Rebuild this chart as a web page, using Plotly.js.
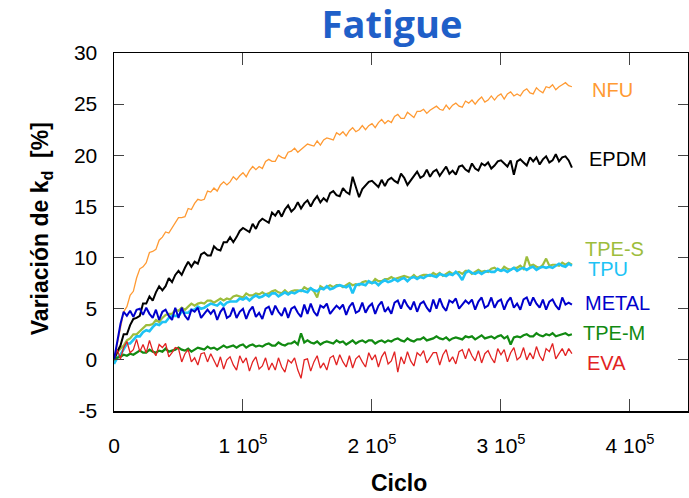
<!DOCTYPE html>
<html>
<head>
<meta charset="utf-8">
<script src="https://cdn.plot.ly/plotly-3.0.1.min.js"></script>
<style>html,body{margin:0;padding:0;background:#fff;}#chart{width:689px;height:498px;}</style>
</head>
<body>
<div id="chart"></div>
<script>
// Cycle counts (x)
const cycles = [
  0,2500,5000,7500,10000,12500,15000,17500,20000,22500,
  25000,27500,30000,32500,35000,37500,40000,42500,45000,47500,
  50000,52500,55000,57500,60000,62500,65000,67500,70000,72500,
  75000,77500,80000,82500,85000,87500,90000,92500,95000,97500,
  100000,102500,105000,107500,110000,112500,115000,117500,120000,122500,
  125000,127500,130000,132500,135000,137500,140000,142500,145000,147500,
  150000,152500,155000,157500,160000,162500,165000,167500,170000,172500,
  175000,177500,180000,182500,185000,187500,190000,192500,195000,197500,
  200000,202500,205000,207500,210000,212500,215000,217500,220000,222500,
  225000,227500,230000,232500,235000,237500,240000,242500,245000,247500,
  250000,252500,255000,257500,260000,262500,265000,267500,270000,272500,
  275000,277500,280000,282500,285000,287500,290000,292500,295000,297500,
  300000,302500,305000,307500,310000,312500,315000,317500,320000,322500,
  325000,327500,330000,332500,335000,337500,340000,342500,345000,347500,
  350000,352500,355000];

const nfu = [
  0,1.4,3.1,4.7,5.2,6.3,6.7,8.0,8.9,9.1,
  9.5,10.5,10.6,10.8,11.7,12.0,12.5,12.4,12.9,13.5,
  13.9,13.9,14.0,14.8,14.7,15.3,15.7,15.6,15.7,16.5,
  16.4,16.8,16.5,17.1,17.4,17.1,17.4,17.9,17.6,18.0,
  18.3,17.9,18.5,18.9,18.6,18.9,18.7,19.4,19.6,19.4,
  19.4,20.0,19.8,19.7,20.3,20.4,20.7,20.3,20.6,20.9,
  21.1,21.0,20.9,21.4,21.0,21.5,21.7,21.6,21.5,22.2,
  22.0,22.3,21.9,22.4,22.7,22.3,22.5,22.9,22.5,22.9,
  23.1,22.7,23.2,23.5,23.1,23.4,23.2,23.8,24.0,23.6,
  23.6,24.2,23.9,23.7,24.3,24.3,24.5,24.1,24.4,24.6,
  24.8,24.5,24.4,24.9,24.5,24.9,25.1,24.8,24.7,25.3,
  25.1,25.4,25.0,25.4,25.7,25.2,25.4,25.8,25.4,25.8,
  26.0,25.5,26.0,26.2,25.8,26.0,25.8,26.3,26.5,26.1,
  26.0,26.6,26.3,26.1,26.7,26.6,26.9,26.4,26.7,26.9,
  27.1,26.8,26.7];

const epdm = [
  0,0.8,1.4,2.5,2.5,3.4,4.0,4.1,4.3,5.5,
  5.5,6.2,5.8,6.6,7.2,6.8,7.2,8.0,7.6,8.3,
  8.7,8.3,9.0,9.6,9.1,9.6,9.4,10.3,10.5,10.2,
  10.2,11.1,10.8,10.7,11.5,11.5,12.0,11.5,12.0,12.6,
  12.9,12.7,12.5,13.3,12.8,13.5,13.8,13.6,13.4,14.4,
  14.1,14.6,14.0,14.7,15.1,14.5,14.8,15.4,14.8,15.3,
  15.6,15.0,15.6,16.0,15.4,15.8,15.5,16.3,16.5,16.1,
  16.0,16.8,16.4,16.2,17.9,16.9,15.9,16.7,17.0,17.4,
  17.5,17.2,16.9,17.6,17.0,17.6,17.8,17.5,17.3,18.2,
  17.8,17.1,17.5,18.0,18.4,17.8,18.0,18.6,17.9,18.4,
  18.6,18.0,18.5,18.9,18.2,18.5,18.1,18.9,19.0,18.6,
  18.4,19.2,18.7,18.5,19.2,19.0,19.3,18.7,19.0,19.4,
  19.5,19.2,18.9,19.5,18.1,19.4,19.6,19.3,19.0,19.8,
  19.4,19.8,19.1,19.6,19.9,19.3,19.5,20.1,19.4,19.8,
  19.9,19.5,18.8];

const tpeS = [
  0,0.7,1.1,1.4,1.9,2.1,2.5,2.5,2.8,3.1,
  3.4,3.4,3.5,3.9,3.7,4.1,4.4,4.5,4.5,4.9,
  4.8,5.1,4.9,5.2,5.5,5.3,5.5,5.6,5.5,5.8,
  5.8,5.6,5.8,6.0,5.8,6.0,5.9,6.2,6.3,6.2,
  6.1,6.5,6.3,6.3,6.5,6.4,6.6,6.4,6.5,6.7,
  6.8,6.6,6.5,6.8,6.5,6.7,6.8,6.8,6.7,7.1,
  6.9,7.0,6.7,6.1,7.2,7.0,7.1,7.3,7.1,7.3,
  7.3,7.1,7.3,7.5,7.3,7.4,7.3,7.6,7.7,7.6,
  7.5,7.9,7.7,7.7,7.9,7.9,8.1,7.9,8.0,8.1,
  8.2,8.1,8.0,8.3,8.0,8.2,8.3,8.3,8.2,8.5,
  8.3,8.5,8.2,8.4,8.6,8.4,8.5,8.6,8.4,8.7,
  8.7,8.4,8.6,8.8,8.6,8.7,8.6,8.9,9.0,8.8,
  8.7,9.1,8.9,8.8,9.0,9.0,9.2,8.9,10.1,9.2,
  9.3,9.1,9.0,9.3,9.9,9.2,9.3,9.3,9.2,9.5,
  9.3,9.5,9.3];

const tpu = [
  -0.4,0.2,0.5,1.1,1.6,1.6,1.9,2.3,2.3,2.7,
  2.9,2.8,3.2,3.5,3.4,3.7,3.7,4.1,4.3,4.3,
  4.3,4.7,4.6,4.6,4.9,4.9,5.2,5.0,5.1,5.3,
  5.5,5.4,5.3,5.6,5.3,5.6,5.7,5.7,5.7,6.0,
  5.9,6.1,5.8,6.1,6.3,6.1,6.2,6.4,6.2,6.5,
  6.5,6.2,6.4,6.6,6.4,6.6,6.5,6.7,6.8,6.7,
  6.6,7.0,6.8,6.7,7.0,6.9,7.2,6.9,7.0,7.2,
  7.3,7.2,7.1,7.3,6.5,7.3,7.4,7.4,7.3,7.7,
  7.5,7.6,7.3,7.6,7.8,7.6,7.7,7.9,7.7,7.9,
  8.0,7.7,8.0,8.1,7.9,8.1,8.0,8.2,8.3,8.2,
  8.1,8.4,8.3,8.2,8.4,8.3,8.6,8.3,7.8,8.5,
  8.7,8.5,8.4,8.6,8.4,8.6,8.7,8.6,8.6,8.9,
  8.7,8.8,8.6,8.8,9.0,8.7,8.9,9.0,8.8,9.0,
  9.1,8.8,9.0,9.1,9.0,9.1,9.0,9.2,9.4,9.2,
  9.1,9.4,9.2];

const metal = [
  0,1.8,3.5,4.7,4.3,4.8,4.2,4.9,5.0,4.4,
  5.1,4.5,4.1,4.9,3.9,4.7,4.9,4.3,3.9,5.1,
  4.1,5.1,4.3,3.9,4.9,4.7,5.1,4.1,4.5,4.9,
  4.5,4.9,3.9,4.7,5.1,4.1,4.3,5.1,4.1,4.7,
  5.0,4.0,4.8,5.2,4.2,4.6,4.0,5.0,5.2,4.4,
  5.3,4.7,4.3,5.1,4.1,5.0,5.2,4.6,4.2,5.4,
  4.5,5.5,4.7,4.3,5.3,5.1,5.5,4.5,4.9,5.3,
  5.0,5.4,4.4,5.2,5.6,4.6,4.8,5.6,4.6,5.2,
  5.5,4.5,5.3,5.7,4.7,5.1,4.5,5.6,5.8,5.0,
  5.9,5.3,4.9,5.7,4.7,5.5,5.7,5.1,4.7,5.9,
  5.0,6.0,5.2,4.8,5.8,5.6,6.0,5.0,5.4,5.8,
  5.5,5.9,4.9,5.7,6.1,5.1,5.3,6.1,5.1,5.7,
  5.9,4.9,5.7,6.1,5.1,5.5,4.9,5.9,6.1,5.3,
  6.1,5.5,5.1,5.9,4.9,5.7,5.9,5.3,4.9,6.1,
  5.4,5.6,5.4];

const tpeM = [
  0,0.2,0.3,0.5,0.4,0.6,0.5,0.7,0.9,0.7,
  0.7,1.0,0.8,0.7,0.9,0.8,1.1,0.8,0.9,1.0,
  1.2,1.0,0.9,1.1,0.8,1.0,1.2,1.1,1.0,1.3,
  1.1,1.2,1.0,1.2,1.4,1.2,1.3,1.4,1.2,1.4,
  1.5,1.2,1.4,1.5,1.3,1.4,1.3,1.5,1.6,1.4,
  1.4,1.7,1.5,1.4,1.6,1.6,1.8,1.5,2.6,1.7,
  1.9,1.7,1.6,1.8,1.5,1.7,1.8,1.7,1.6,1.9,
  1.7,1.8,1.5,1.7,1.9,1.6,1.8,1.9,1.7,1.9,
  1.9,1.6,1.8,1.9,1.7,1.9,1.8,2.0,2.1,1.9,
  1.8,2.1,1.9,1.8,2.0,2.0,2.2,1.9,2.0,2.1,
  2.3,2.1,2.0,2.2,1.9,2.1,2.2,2.1,2.0,2.3,
  2.2,2.3,2.0,2.2,2.4,2.1,2.2,2.3,2.1,2.3,
  2.4,2.1,2.3,1.5,2.2,2.3,2.2,2.4,2.5,2.3,
  2.3,2.6,2.4,2.3,2.5,2.4,2.6,2.3,2.4,2.5,
  2.6,2.4,2.5];

const eva = [
  0,1.0,0.1,1.2,1.8,0.7,1.0,2.0,0.8,1.5,
  0.7,1.9,0.9,0.4,1.5,1.2,1.6,0.3,0.7,1.2,
  1.1,-0.2,0.6,1.0,-0.2,0.2,-0.5,0.6,0.7,-0.2,
  0.6,-0.1,-0.7,0.3,-0.9,0.0,0.3,-0.5,-1.0,0.4,
  -0.3,0.2,-1.1,-0.2,0.3,-0.9,-0.6,0.2,-1.0,-0.3,
  -1.0,0.2,-0.7,-1.2,0.0,-0.3,0.2,-1.0,-1.8,0.0,
  0.1,-1.1,-0.2,0.4,-0.8,-0.3,-1.0,0.2,0.4,-0.5,
  0.5,-0.2,-0.7,0.4,-0.8,0.1,0.4,-0.2,-0.7,0.7,
  0.0,0.5,-0.7,0.3,0.8,-0.4,-0.1,0.8,-1.2,0.3,
  -0.4,0.8,-0.1,-0.6,0.7,0.4,0.9,-0.3,0.2,0.7,
  0.7,-0.5,0.5,1.0,-0.2,0.3,-0.4,0.8,1.0,0.1,
  1.1,0.4,-0.1,0.9,-0.3,0.6,0.9,0.2,-0.3,1.1,
  0.5,1.0,-0.2,0.7,1.2,0.0,0.3,1.2,0.0,0.7,
  0.1,1.3,0.4,-0.1,1.1,0.8,1.6,0.1,0.6,1.1,
  0.4,1.1,0.6];

const seriesNames = ['TPE-S','TPU','NFU','EPDM','TPE-M','EVA','METAL'];
const seriesData = [tpeS, tpu, nfu, epdm, tpeM, eva, metal];
const seriesColors = ['#9dbd3c','#1ec3f5','#ff9a33','#000000','#118a11','#e22222','#0000cc'];
const seriesWidths = [2.2,2.6,1.3,2.0,2.2,1.3,2.0];

const labelNames = ['NFU','EPDM','TPE-S','TPU','METAL','TPE-M','EVA'];
const labelColors = ['#ff9a33','#000000','#9dbd3c','#1ec3f5','#0000cc','#118a11','#e22222'];
const labelX = [369000,366700,363600,365900,363600,362000,365000];
const labelY = [26.4,19.6,10.8,8.9,5.55,2.64,-0.3];

const xTickVals = [0,100000,200000,300000,400000];
const xTickText = ['0','1 10<sup>5</sup>','2 10<sup>5</sup>','3 10<sup>5</sup>','4 10<sup>5</sup>'];
const yTickVals = [-5,0,5,10,15,20,25,30];
const yTickText = ['-5','0','5','10','15','20','25','30'];

const FONT = '"Liberation Sans", Arial, sans-serif';

const traces = seriesNames.map((n,i)=>({
  x: cycles, y: seriesData[i], type:'scatter', mode:'lines', name:n,
  line:{color:seriesColors[i], width:seriesWidths[i]}, showlegend:false, hoverinfo:'skip'
}));

const annotations = labelNames.map((n,i)=>({
  x: labelX[i], y: labelY[i], xref:'x', yref:'y', text:n, showarrow:false,
  xanchor:'left', yanchor:'middle', font:{family:FONT, size:20, color:labelColors[i]}
}));
annotations.push({
  xref:'paper', yref:'paper', x:-0.127, y:0.508, textangle:-90, showarrow:false,
  xanchor:'center', yanchor:'middle',
  text:'<b>Variación de k<sub>d</sub>  [%]</b>', font:{family:FONT, size:23, color:'#000'}
});
annotations.push({
  xref:'paper', yref:'paper', x:(399-114)/574, y:-(483-411)/358, showarrow:false,
  xanchor:'center', yanchor:'middle',
  text:'<b>Ciclo</b>', font:{family:FONT, size:23, color:'#000'}
});

const layout = {
  width:689, height:498,
  margin:{l:114, r:1, t:53, b:87, pad:0},
  paper_bgcolor:'#fff', plot_bgcolor:'#fff',
  title:{text:'<b>Fatigue</b>', x:392/689, xref:'container', xanchor:'center', y:1-25/498, yref:'container', yanchor:'middle',
    font:{family:'"Open Sans", "Noto Sans", sans-serif', size:38, color:'#1f5fc8'}},
  xaxis:{range:[0,445000], tickvals:xTickVals, ticktext:xTickText, ticks:'inside', ticklen:12, tickwidth:1, tickcolor:'#444',
    showline:true, linecolor:'#000', linewidth:1.5, mirror:'ticks', showgrid:false, zeroline:false,
    tickfont:{family:FONT, size:21, color:'#000'}, ticklabelstandoff:15},
  yaxis:{range:[-5,30], tickvals:yTickVals, ticktext:yTickText, ticks:'inside', ticklen:10, tickwidth:1, tickcolor:'#444',
    showline:true, linecolor:'#000', linewidth:1.5, mirror:'ticks', showgrid:false, zeroline:false,
    tickfont:{family:FONT, size:21, color:'#000'}, ticklabelstandoff:11},
  annotations:annotations
};

Plotly.newPlot('chart', traces, layout, {displayModeBar:false, staticPlot:true});
</script>
</body>
</html>
